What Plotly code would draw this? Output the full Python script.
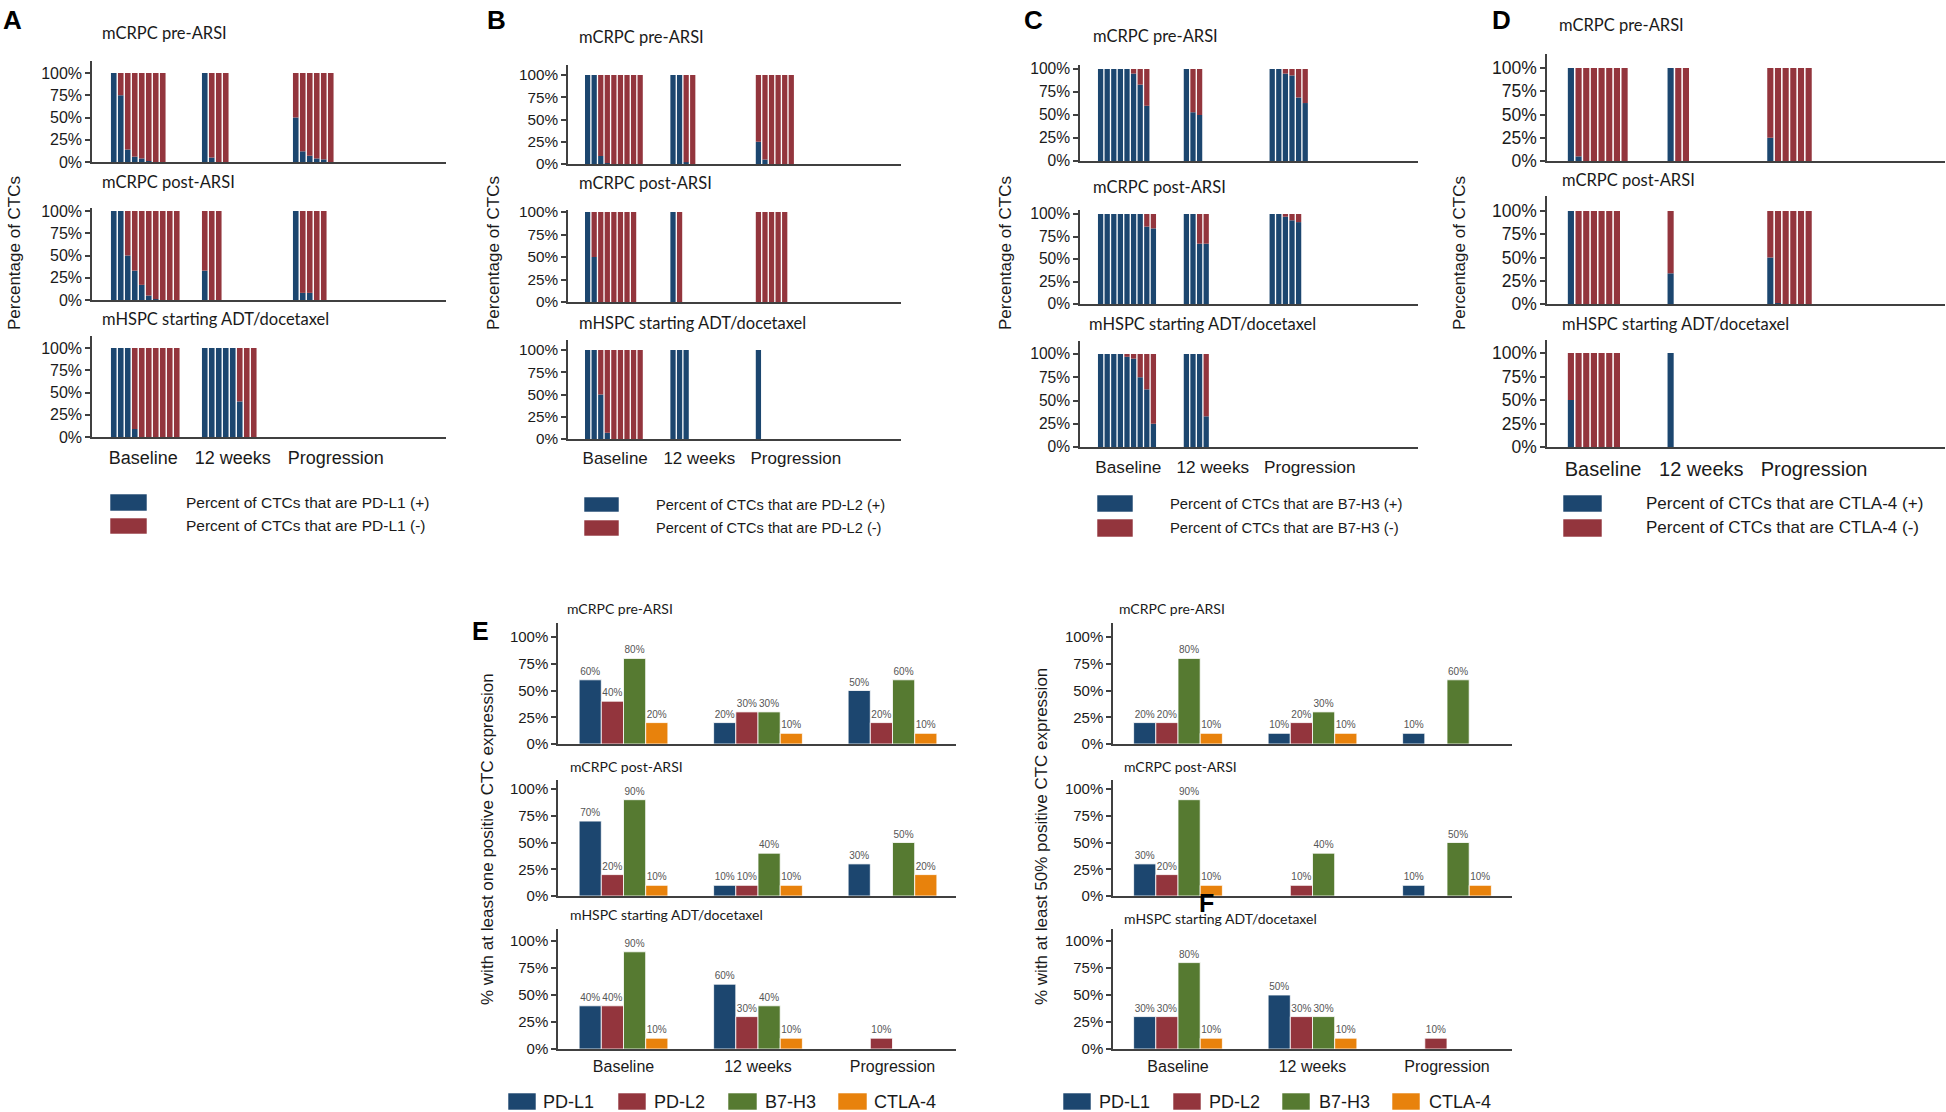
import plotly.graph_objects as go

W, H = 1946, 1112
BLUE, RED, GREEN, ORANGE = "#1c466f", "#93353d", "#567a31", "#e8820c"
AXIS = "#404040"
TXT = "#1a1a1a"
SANS = "Liberation Sans, Arial, sans-serif"
TITLEF = "Lato, Open Sans, sans-serif"

timepoints = ["Baseline", "12 weeks", "Progression"]
cohorts = ["mCRPC pre-ARSI", "mCRPC post-ARSI", "mHSPC starting ADT/docetaxel"]
markers = ["PD-L1", "PD-L2", "B7-H3", "CTLA-4"]

# ---------- Panels A-D: percent of CTCs that are marker-positive, one bar per sample ----------
# PD-L1
pdl1_pre_baseline = [100, 75, 14, 6, 4, 1, 0, 0]
pdl1_pre_12wk = [100, 5, 0, 0]
pdl1_pre_prog = [50, 12, 7, 4, 3, 0]
pdl1_post_baseline = [100, 100, 50, 33, 17, 5, 1, 0, 0, 0]
pdl1_post_12wk = [33, 0, 0]
pdl1_post_prog = [100, 8, 8, 0, 0]
pdl1_hspc_baseline = [100, 100, 100, 9, 0, 0, 0, 0, 0, 0]
pdl1_hspc_12wk = [100, 100, 100, 100, 100, 40, 0, 0]
pdl1_hspc_prog = []
# PD-L2
pdl2_pre_baseline = [100, 100, 9, 1, 0, 0, 0, 0, 0]
pdl2_pre_12wk = [100, 100, 2, 0]
pdl2_pre_prog = [25, 5, 0, 0, 0, 0]
pdl2_post_baseline = [100, 50, 0, 0, 0, 0, 0, 0]
pdl2_post_12wk = [100, 0]
pdl2_post_prog = [0, 0, 0, 0, 0]
pdl2_hspc_baseline = [100, 100, 50, 7, 0, 0, 0, 0, 0]
pdl2_hspc_12wk = [100, 100, 100]
pdl2_hspc_prog = [100]
# B7-H3
b7h3_pre_baseline = [100, 100, 100, 100, 100, 95, 83, 60]
b7h3_pre_12wk = [100, 53, 50]
b7h3_pre_prog = [100, 100, 95, 93, 69, 63]
b7h3_post_baseline = [100, 100, 100, 100, 100, 100, 100, 86, 84]
b7h3_post_12wk = [100, 100, 67, 67]
b7h3_post_prog = [100, 100, 97, 93, 91]
b7h3_hspc_baseline = [100, 100, 100, 100, 97, 95, 75, 62, 25]
b7h3_hspc_12wk = [100, 100, 100, 33]
b7h3_hspc_prog = []
# CTLA-4
ctla4_pre_baseline = [100, 5, 0, 0, 0, 0, 0, 0]
ctla4_pre_12wk = [100, 0, 0]
ctla4_pre_prog = [25, 0, 0, 0, 0, 0]
ctla4_post_baseline = [100, 0, 0, 0, 0, 0, 0]
ctla4_post_12wk = [33]
ctla4_post_prog = [50, 1, 0, 0, 0, 0]
ctla4_hspc_baseline = [50, 0, 0, 0, 0, 0, 0]
ctla4_hspc_12wk = [100]
ctla4_hspc_prog = []

# ---------- Panel E: % of patients with at least one positive CTC (Baseline, 12 weeks, Progression) ----------
e_pre_pdl1 = [60, 20, 50]
e_pre_pdl2 = [40, 30, 20]
e_pre_b7h3 = [80, 30, 60]
e_pre_ctla4 = [20, 10, 10]
e_post_pdl1 = [70, 10, 30]
e_post_pdl2 = [20, 10, 0]
e_post_b7h3 = [90, 40, 50]
e_post_ctla4 = [10, 10, 20]
e_hspc_pdl1 = [40, 60, 0]
e_hspc_pdl2 = [40, 30, 10]
e_hspc_b7h3 = [90, 40, 0]
e_hspc_ctla4 = [10, 10, 0]
# ---------- Panel F: % of patients with at least 50% positive CTCs ----------
f_pre_pdl1 = [20, 10, 10]
f_pre_pdl2 = [20, 20, 0]
f_pre_b7h3 = [80, 30, 60]
f_pre_ctla4 = [10, 10, 0]
f_post_pdl1 = [30, 0, 10]
f_post_pdl2 = [20, 10, 0]
f_post_b7h3 = [90, 40, 50]
f_post_ctla4 = [10, 0, 10]
f_hspc_pdl1 = [30, 50, 0]
f_hspc_pdl2 = [30, 30, 10]
f_hspc_b7h3 = [80, 30, 0]
f_hspc_ctla4 = [10, 10, 0]

group_start_slots = [0, 13, 26]
tick_slots = [4.2, 17.0, 31.7]
pct_ticks = [0, 25, 50, 75, 100]
pct_labels = ["0%", "25%", "50%", "75%", "100%"]

fig = go.Figure()
layout = {}
annotations = []
shapes = []
counter = [0]


def px(x):
    return x / W


def py(y):
    return 1 - y / H


def next_axes():
    counter[0] += 1
    n = counter[0]
    return n, ("x" if n == 1 else f"x{n}"), ("y" if n == 1 else f"y{n}"), \
        ("xaxis" if n == 1 else f"xaxis{n}"), ("yaxis" if n == 1 else f"yaxis{n}")


def text(x, y, s, size, family=SANS, anchor="left", bold=False, angle=0, color=TXT, yanchor="middle"):
    annotations.append(dict(x=px(x), y=py(y), xref="paper", yref="paper", text=f"<b>{s}</b>" if bold else s,
                            showarrow=False, xanchor=anchor, yanchor=yanchor, textangle=angle,
                            font=dict(size=size, family=family, color=color)))


def box(x0, x1, y0, y1, color):
    shapes.append(dict(type="rect", xref="paper", yref="paper", x0=px(x0), x1=px(x1), y0=py(y1), y1=py(y0),
                       fillcolor=color, line=dict(width=0.8, color="rgba(255,255,255,0.7)")))


def yaxis_cfg(row, n, tickfont):
    y0, y100, ytop = row
    return dict(domain=[py(y0), py(ytop)], range=[0, (y0 - ytop) / (y0 - y100) * 100],
                tickvals=pct_ticks, ticktext=pct_labels, ticks="outside", ticklen=5, tickwidth=1.5,
                tickcolor=AXIS, showline=True, linecolor=AXIS, linewidth=1.5, showgrid=False,
                zeroline=False, anchor=f"x{n}" if n > 1 else "x", fixedrange=True, automargin=False,
                tickfont=dict(size=tickfont, family=SANS, color=TXT))


# ---------------- Panels A-D ----------------
panels = [
    dict(letter="A", lx=1, marker="PD-L1",
         data=[[pdl1_pre_baseline, pdl1_pre_12wk, pdl1_pre_prog],
               [pdl1_post_baseline, pdl1_post_12wk, pdl1_post_prog],
               [pdl1_hspc_baseline, pdl1_hspc_12wk, pdl1_hspc_prog]],
         xaxis=(92, 446), slot0=113.75, pitch=7.0,
         rows=[(162, 73, 61), (300, 211, 208), (437, 348, 336)],
         titles=[(100, 33), (100, 182), (100, 319)], ytx=14,
         tickfont=16, catfont=18, lbox=(110, 147), ly=[(494, 511), (518, 534)], ltx=184, lfont=15.5),
    dict(letter="B", lx=485, marker="PD-L2",
         data=[[pdl2_pre_baseline, pdl2_pre_12wk, pdl2_pre_prog],
               [pdl2_post_baseline, pdl2_post_12wk, pdl2_post_prog],
               [pdl2_hspc_baseline, pdl2_hspc_12wk, pdl2_hspc_prog]],
         xaxis=(568, 901), slot0=587.6, pitch=6.57,
         rows=[(164, 75, 65), (302, 212, 210), (439, 350, 340)],
         titles=[(577, 37), (577, 183), (577, 323)], ytx=493,
         tickfont=15.3, catfont=17, lbox=(584, 619), ly=[(497, 512), (520, 536)], ltx=654, lfont=14.6),
    dict(letter="C", lx=1022, marker="B7-H3",
         data=[[b7h3_pre_baseline, b7h3_pre_12wk, b7h3_pre_prog],
               [b7h3_post_baseline, b7h3_post_12wk, b7h3_post_prog],
               [b7h3_hspc_baseline, b7h3_hspc_12wk, b7h3_hspc_prog]],
         xaxis=(1080, 1418), slot0=1100.6, pitch=6.6,
         rows=[(161, 69, 65), (304, 214, 210), (447, 354, 341)],
         titles=[(1091, 36), (1091, 187), (1087, 324)], ytx=1005,
         tickfont=15.6, catfont=17.2, lbox=(1097, 1133), ly=[(495, 512), (519, 537)], ltx=1168, lfont=14.8),
    dict(letter="D", lx=1490, marker="CTLA-4",
         data=[[ctla4_pre_baseline, ctla4_pre_12wk, ctla4_pre_prog],
               [ctla4_post_baseline, ctla4_post_12wk, ctla4_post_prog],
               [ctla4_hspc_baseline, ctla4_hspc_12wk, ctla4_hspc_prog]],
         xaxis=(1547, 1945), slot0=1570.9, pitch=7.67,
         rows=[(161, 68, 54), (304, 211, 196), (447, 353, 340)],
         titles=[(1557, 25), (1560, 180), (1560, 324)], ytx=1459,
         tickfont=17.5, catfont=20, lbox=(1563, 1602), ly=[(495, 512), (519, 537)], ltx=1644, lfont=17),
]

for p in panels:
    x0, x1 = p["xaxis"]
    xr = [(x0 - p["slot0"]) / p["pitch"], (x1 - p["slot0"]) / p["pitch"]]
    for r, (row, groups) in enumerate(zip(p["rows"], p["data"])):
        n, xn, yn, xan, yan = next_axes()
        xs, pos = [], []
        for start, vals in zip(group_start_slots, groups):
            for i, v in enumerate(vals):
                xs.append(start + i)
                pos.append(v)
        fig.add_trace(go.Bar(x=xs, y=[v if v > 0 else None for v in pos], xaxis=xn, yaxis=yn,
                             width=0.8, offset=-0.4, marker=dict(color=BLUE, line=dict(width=0)),
                             showlegend=False, hoverinfo="skip"))
        fig.add_trace(go.Bar(x=xs, y=[100 - v if v < 100 else None for v in pos], base=pos, xaxis=xn, yaxis=yn,
                             width=0.8, offset=-0.4, marker=dict(color=RED, line=dict(width=0)),
                             showlegend=False, hoverinfo="skip"))
        bottom = r == 2
        layout[xan] = dict(domain=[px(x0), px(x1)], range=xr, anchor=yn, showline=True, linecolor=AXIS,
                           linewidth=2, showgrid=False, zeroline=False, fixedrange=True, automargin=False,
                           tickvals=tick_slots, ticktext=timepoints, showticklabels=bottom,
                           ticks="outside" if bottom else "", ticklen=3, tickcolor="rgba(0,0,0,0)",
                           tickfont=dict(size=p["catfont"], family=SANS, color=TXT))
        layout[yan] = yaxis_cfg(row, n, p["tickfont"])
        tx, ty = p["titles"][r]
        text(tx, ty, cohorts[r], 16.5, family=TITLEF)
    text(p["lx"], 3, p["letter"], 26, bold=True, yanchor="top", color="#000")
    text(p["ytx"], 253, "Percentage of CTCs", 17, angle=-90, anchor="center")
    bx0, bx1 = p["lbox"]
    for (yy0, yy1), col, sign in zip(p["ly"], [BLUE, RED], ["+", "-"]):
        box(bx0, bx1, yy0, yy1, col)
        text(p["ltx"], (yy0 + yy1) / 2, f"Percent of CTCs that are {p['marker']} ({sign})", p["lfont"])

# ---------------- Panels E-F ----------------
colors = [BLUE, RED, GREEN, ORANGE]
bottom_panels = [
    dict(letter="E", lxy=(470, 615), xaxis=(558, 956), cat0=623.5, step=134.5,
         data=[[e_pre_pdl1, e_pre_pdl2, e_pre_b7h3, e_pre_ctla4],
               [e_post_pdl1, e_post_pdl2, e_post_b7h3, e_post_ctla4],
               [e_hspc_pdl1, e_hspc_pdl2, e_hspc_b7h3, e_hspc_ctla4]],
         titles=[(565, 608), (568, 766), (568, 914)], ytx=487, yty=839,
         ytitle="% with at least one positive CTC expression",
         legend=[(508, 536, 541), (618, 646, 652), (728, 757, 763), (838, 867, 872)]),
    dict(letter="F", lxy=(1197, 887), xaxis=(1113, 1512), cat0=1178, step=134.5,
         data=[[f_pre_pdl1, f_pre_pdl2, f_pre_b7h3, f_pre_ctla4],
               [f_post_pdl1, f_post_pdl2, f_post_b7h3, f_post_ctla4],
               [f_hspc_pdl1, f_hspc_pdl2, f_hspc_b7h3, f_hspc_ctla4]],
         titles=[(1117, 608), (1122, 766), (1122, 918)], ytx=1041, yty=837,
         ytitle="% with at least 50% positive CTC expression",
         legend=[(1063, 1091, 1097), (1173, 1201, 1207), (1282, 1310, 1317), (1392, 1420, 1427)]),
]
bottom_rows = [(744, 637, 623), (896, 789, 780), (1049, 941, 929)]

for p in bottom_panels:
    x0, x1 = p["xaxis"]
    xr = [(x0 - p["cat0"]) / p["step"], (x1 - p["cat0"]) / p["step"]]
    for r, (row, series) in enumerate(zip(bottom_rows, p["data"])):
        n, xn, yn, xan, yan = next_axes()
        for name, vals, col in zip(markers, series, colors):
            fig.add_trace(go.Bar(x=timepoints, y=[v if v > 0 else None for v in vals], name=name,
                                 xaxis=xn, yaxis=yn, marker=dict(color=col, line=dict(color="rgba(255,255,255,0.8)", width=1)),
                                 text=[f"{v}%" if v > 0 else "" for v in vals], textposition="outside",
                                 textfont=dict(size=10, family=SANS, color="#555555"), cliponaxis=False,
                                 showlegend=False, hoverinfo="skip"))
        bottom = r == 2
        layout[xan] = dict(domain=[px(x0), px(x1)], range=xr, anchor=yn, type="category",
                           categoryorder="array", categoryarray=timepoints, showline=True, linecolor=AXIS,
                           linewidth=2, showgrid=False, zeroline=False, fixedrange=True, automargin=False,
                           showticklabels=bottom, ticks="outside" if bottom else "", ticklen=2,
                           tickcolor="rgba(0,0,0,0)", tickfont=dict(size=16, family=SANS, color=TXT))
        layout[yan] = yaxis_cfg(row, n, 15)
        tx, ty = p["titles"][r]
        text(tx, ty, cohorts[r], 14, family=TITLEF)
    lx, ly = p["lxy"]
    text(lx, ly, p["letter"], 25, bold=True, yanchor="top", color="#000")
    text(p["ytx"], p["yty"], p["ytitle"], 17, angle=-90, anchor="center")
    for (b0, b1, tx), name, col in zip(p["legend"], markers, colors):
        box(b0, b1, 1093, 1110, col)
        text(tx, 1102, name, 18)

fig.update_layout(width=W, height=H, margin=dict(l=0, r=0, t=0, b=0, autoexpand=False), autosize=False,
                  paper_bgcolor="white", plot_bgcolor="white", barmode="group", bargap=0.34,
                  bargroupgap=0, annotations=annotations, shapes=shapes, showlegend=False,
                  font=dict(family=SANS, color=TXT), **layout)
fig.write_html("out.html", config={"displayModeBar": False},
               post_script=("document.documentElement.style.margin='0';document.body.style.margin='0';"
                            "document.body.style.overflow='hidden';"
                            "var gd=document.getElementById('{plot_id}');"
                            "gd.style.position='fixed';gd.style.top='0px';gd.style.left='0px';"))
